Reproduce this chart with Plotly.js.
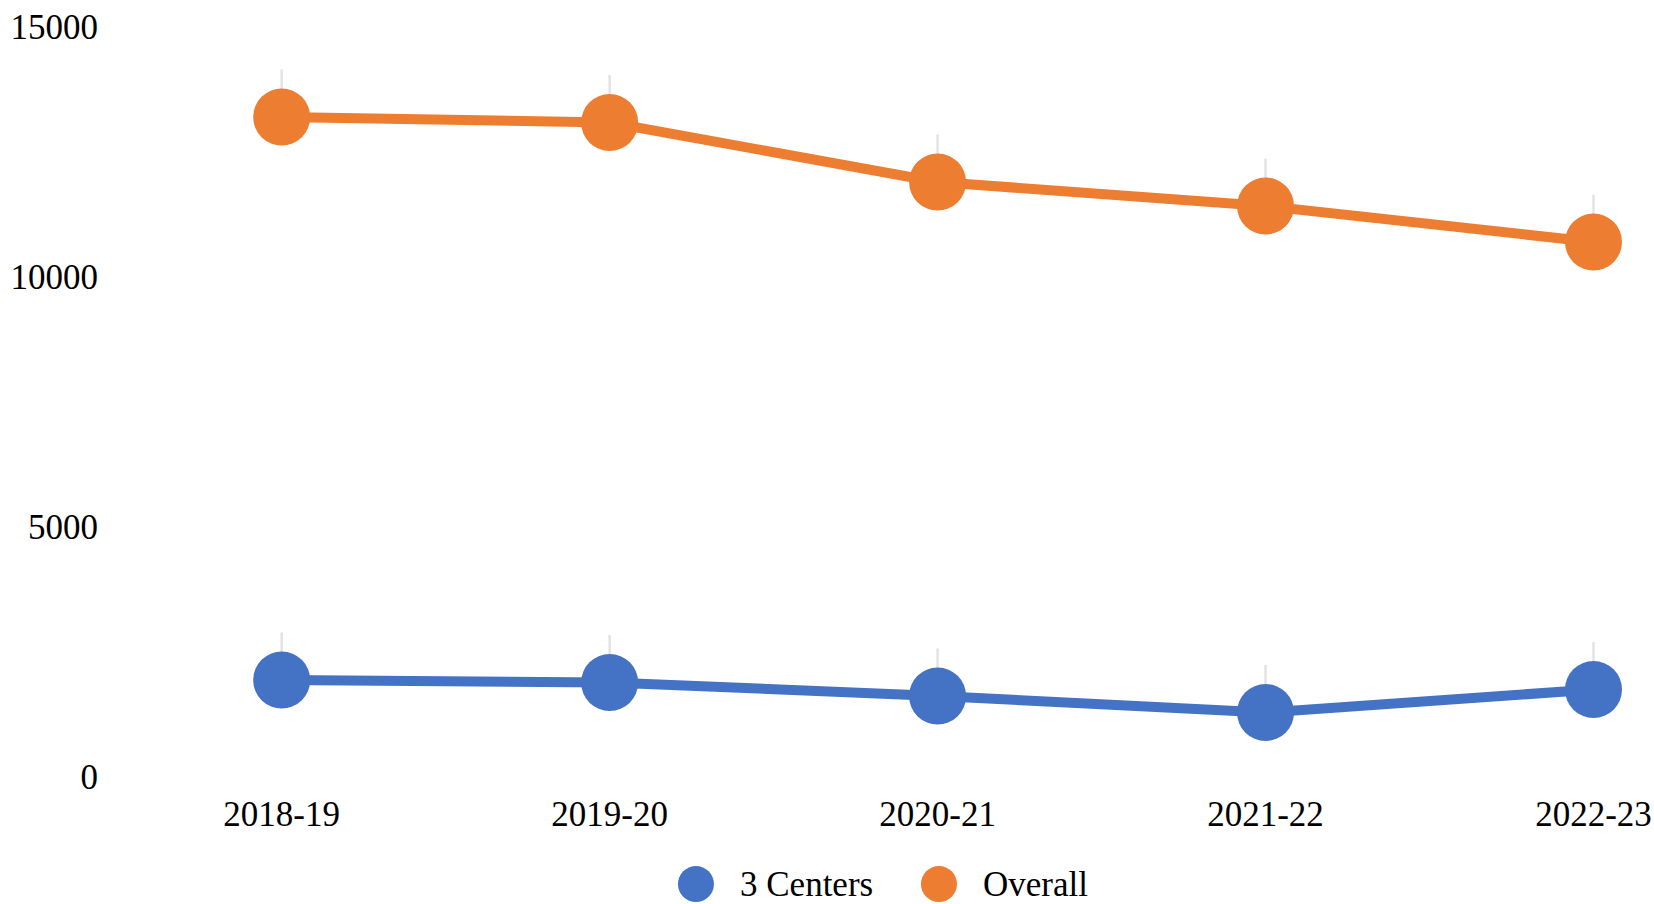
<!DOCTYPE html>
<html>
<head>
<meta charset="utf-8">
<script src="https://cdn.plot.ly/plotly-3.0.1.min.js"></script>
<style>html,body{margin:0;padding:0;background:#fff;}#chart{width:1654px;height:904px;}</style>
</head>
<body>
<div id="chart"></div>
<script>
const years = ["2018-19", "2019-20", "2020-21", "2021-22", "2022-23"];
const centers3 = [1940, 1890, 1620, 1290, 1750];
const overall = [13200, 13090, 11900, 11420, 10700];
const centers3ErrPlus = [950, 950, 950, 950, 950];
const overallErrPlus = [950, 950, 950, 950, 950];
const yTicks = [0, 5000, 10000, 15000];
const seriesNames = ["3 Centers", "Overall"];
const colors = ["#4472C4", "#ED7D31"];

const font = "Liberation Serif, Times New Roman, serif";

function mkTrace(name, y, err, color) {
  return {
    type: "scatter", mode: "lines+markers", name: name,
    x: years, y: y,
    line: {color: color, width: 10},
    marker: {color: color, size: 57},
    error_y: {type: "data", symmetric: false, array: err, arrayminus: err.map(() => 0),
              color: "#e3e3e3", thickness: 2.5, width: 0},
    cliponaxis: false,
    showlegend: false
  };
}

const data = [
  mkTrace(seriesNames[0], centers3, centers3ErrPlus, colors[0]),
  mkTrace(seriesNames[1], overall, overallErrPlus, colors[1])
];

// custom legend (large circles like the reference)
const legX = [0.3795, 0.5369];
const legY = -0.1427;
const shapes = seriesNames.map((n, i) => ({
  type: "circle", xref: "paper", yref: "paper",
  xsizemode: "pixel", ysizemode: "pixel",
  xanchor: legX[i], yanchor: legY,
  x0: -18, x1: 18, y0: -18, y1: 18,
  fillcolor: colors[i], line: {width: 0}
}));
const annotations = seriesNames.map((n, i) => ({
  xref: "paper", yref: "paper", x: legX[i], y: legY,
  xshift: 42, xanchor: "left", yanchor: "middle",
  text: n, showarrow: false,
  font: {family: font, size: 35, color: "#000"}
}));

const layout = {
  width: 1654, height: 904,
  margin: {l: 110, r: 0, t: 27, b: 127},
  paper_bgcolor: "#fff", plot_bgcolor: "#fff",
  showlegend: false,
  font: {family: font, size: 35, color: "#000"},
  xaxis: {type: "category", range: [-0.5235, 4.1845], showgrid: false, zeroline: false,
          showline: false, ticks: "", ticklabelstandoff: 13,
          tickfont: {family: font, size: 35, color: "#000"}},
  yaxis: {range: [0, 15000], tickvals: yTicks, tickformat: "d", showgrid: false,
          zeroline: false, showline: false, ticks: "", ticklabelstandoff: 11,
          tickfont: {family: font, size: 35, color: "#000"}},
  shapes: shapes,
  annotations: annotations
};

Plotly.newPlot("chart", data, layout, {displayModeBar: false, staticPlot: true});
</script>
</body>
</html>
